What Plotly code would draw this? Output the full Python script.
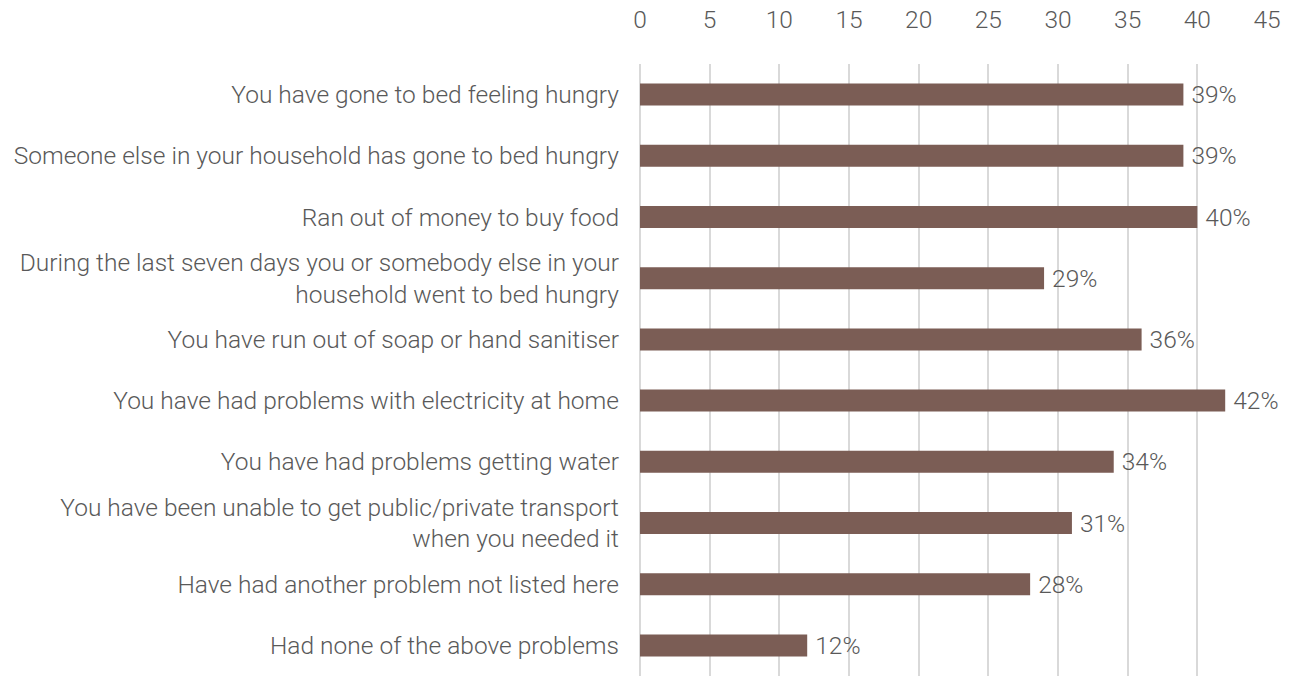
import plotly.graph_objects as go

# Share of respondents reporting each problem (%)
problems = [
    "You have gone to bed feeling hungry",
    "Someone else in your household has gone to bed hungry",
    "Ran out of money to buy food",
    "During the last seven days you or somebody else in your<br>household went to bed hungry",
    "You have run out of soap or hand sanitiser",
    "You have had problems with electricity at home",
    "You have had problems getting water",
    "You have been unable to get public/private transport<br>when you needed it",
    "Have had another problem not listed here",
    "Had none of the above problems",
]
shares = [39, 39, 40, 29, 36, 42, 34, 31, 28, 12]
x_ticks = [0, 5, 10, 15, 20, 25, 30, 35, 40, 45]

BAR = "#7b5d55"
TEXT = "#595959"
GRID = "#d9d9d9"
FONT = dict(family="Roboto, 'Open Sans', sans-serif", size=24.5, color=TEXT, weight=300)

fig = go.Figure(
    go.Bar(
        x=shares,
        y=problems,
        orientation="h",
        marker=dict(color=BAR, line=dict(width=0)),
        width=0.36,
        text=[f"\u2009{v}%" for v in shares],
        textposition="outside",
        textfont=FONT,
        constraintext="none",
        cliponaxis=False,
        hoverinfo="skip",
    )
)

fig.update_layout(
    width=1290,
    height=676,
    margin=dict(l=640, r=23, t=64, b=0),
    paper_bgcolor="white",
    plot_bgcolor="white",
    font=FONT,
    showlegend=False,
    xaxis=dict(
        side="top",
        range=[0, 45],
        tickvals=x_ticks,
        showgrid=True,
        gridcolor=GRID,
        gridwidth=1.5,
        zeroline=True,
        zerolinecolor=GRID,
        zerolinewidth=1.5,
        showline=False,
        ticks="",
        ticklabelstandoff=30,
        tickfont=FONT,
    ),
    yaxis=dict(
        autorange="reversed",
        showgrid=False,
        zeroline=False,
        showline=False,
        ticks="",
        ticklabelstandoff=20,
        tickfont=FONT,
    ),
)

fig.write_html("out.html")
